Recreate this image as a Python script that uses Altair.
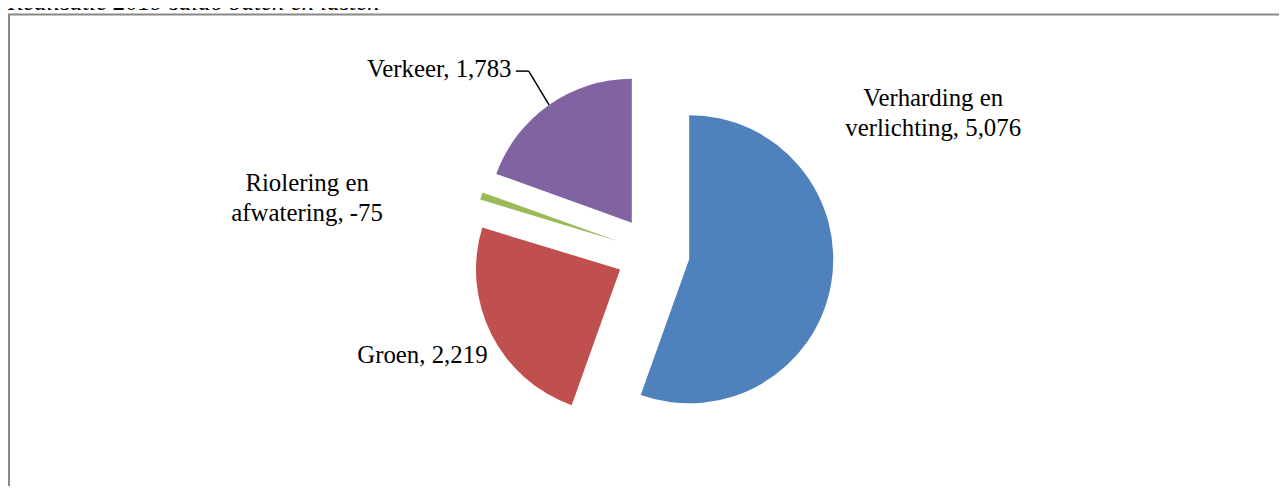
import altair as alt
import pandas as pd

# ---- data ----
categories = ["Verharding en verlichting", "Groen", "Riolering en afwatering", "Verkeer"]
values = [5076, 2219, -75, 1783]
title_text = "Realisatie 2019 saldo baten en lasten"

# ---- style ----
colors = ["#4F81BD", "#C0504D", "#9BBB59", "#8064A2"]
wrap_label = [True, False, True, False]
label_xy = [(931, 89), (417, 348), (301, 175), (434, 60)]  # label anchor (px, first line)
W, H = 1279, 478
CX, CY = 649, 245
R = 145
EXPLODE = 37
FONT = "Liberation Serif"
FS = 25


def make_label(cat, v, wrap):
    head, _, tail = cat.rpartition(" ")
    if wrap:
        return f"{head}\n{tail}, {v:,}"
    return f"{cat}, {v:,}"


df = pd.DataFrame({
    "cat": categories,
    "value": values,
    "order": list(range(len(categories))),
    "label": [make_label(c, v, w) for c, v, w in zip(categories, values, wrap_label)],
    "lx": [p[0] for p in label_xy],
    "ly": [p[1] for p in label_xy],
})

base = (
    alt.Chart(df)
    .transform_calculate(absv="abs(datum.value)")
    .transform_window(cum="sum(absv)", sort=[alt.SortField("order")], frame=[None, 0])
    .transform_joinaggregate(total="sum(absv)")
    .transform_calculate(
        a0="(datum.cum - datum.absv) / datum.total * 2 * PI",
        a1="datum.cum / datum.total * 2 * PI",
    )
    .transform_calculate(mid="(datum.a0 + datum.a1) / 2")
    .transform_calculate(
        cx=f"{CX} + {EXPLODE} * sin(datum.mid)",
        cy=f"{CY} - {EXPLODE} * cos(datum.mid)",
    )
    .transform_calculate(
        ex=f"datum.cx + {R} * sin(datum.mid)",
        ey=f"datum.cy - {R} * cos(datum.mid)",
    )
)

border = alt.Chart(df).mark_rect(fill=None, stroke="#888888", strokeWidth=2).encode(
    x=alt.value(1), x2=alt.value(W + 30), y=alt.value(5), y2=alt.value(H + 30)
).transform_filter("datum.order == 0")

arcs = base.mark_arc(outerRadius=R, innerRadius=0).encode(
    theta=alt.Theta("a0:Q", scale=None),
    theta2="a1:Q",
    x=alt.X("cx:Q", scale=None),
    y=alt.Y("cy:Q", scale=None),
    color=alt.Color("cat:N", scale=alt.Scale(domain=categories, range=colors), legend=None),
)

leader_diag = base.transform_filter(f"datum.cat == '{categories[3]}'").mark_rule(
    color="black", strokeWidth=1.5
).encode(
    x=alt.X("ex:Q", scale=None), y=alt.Y("ey:Q", scale=None),
    x2=alt.value(524), y2=alt.value(62),
)
leader_h = base.transform_filter(f"datum.cat == '{categories[3]}'").mark_rule(
    color="black", strokeWidth=1.5
).encode(
    x=alt.value(511), x2=alt.value(524), y=alt.value(62),
)

labels = base.mark_text(
    font=FONT, fontSize=FS, color="black", align="center", baseline="middle",
    lineBreak="\n", lineHeight=30,
).encode(
    x=alt.X("lx:Q", scale=None),
    y=alt.Y("ly:Q", scale=None),
    text="label:N",
)

title = alt.Chart(df).transform_filter("datum.order == 0").mark_text(
    font=FONT, fontSize=FS, fontStyle="italic", color="black", align="left", baseline="alphabetic",
).encode(x=alt.value(0), y=alt.value(1), text=alt.value(title_text))

chart = alt.layer(border, arcs, leader_diag, leader_h, labels, title).properties(
    width=W, height=H, padding=0,
    autosize=alt.AutoSizeParams(type="none"),
).configure_view(stroke=None)

chart.save("out.html", embed_options={"renderer": "svg", "actions": False})
